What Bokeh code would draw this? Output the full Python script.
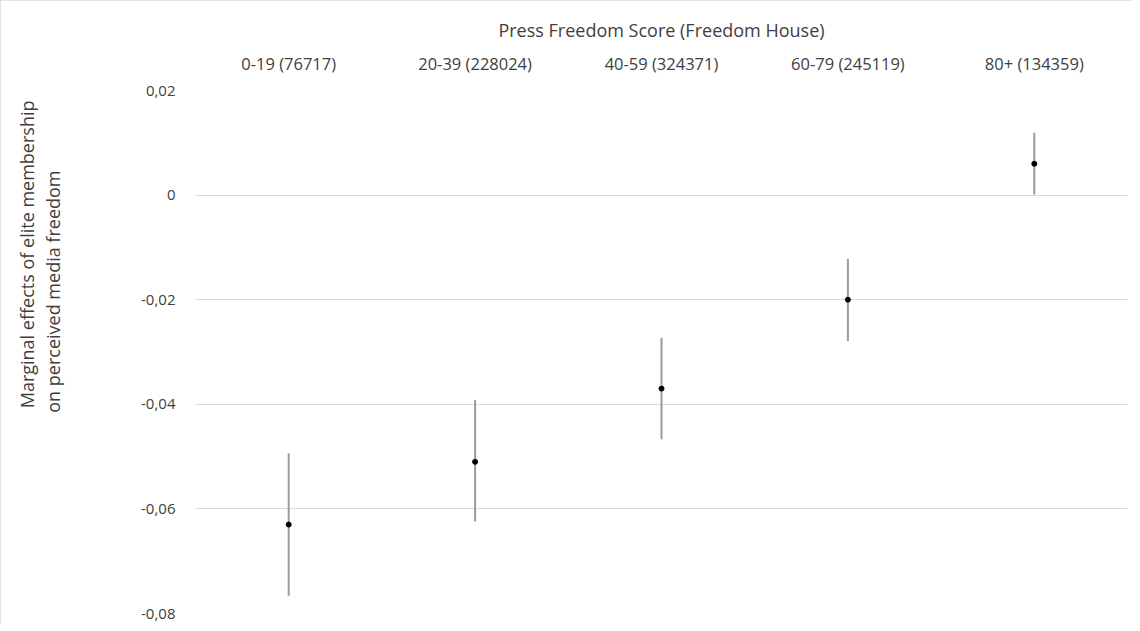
from bokeh.plotting import figure
from bokeh.models import FactorRange, Range1d, FixedTicker, CustomJSTickFormatter, Title
from bokeh.embed import file_html
from bokeh.resources import INLINE

# ---- data ----
categories = ["0-19 (76717)", "20-39 (228024)", "40-59 (324371)", "60-79 (245119)", "80+ (134359)"]
estimates = [-0.063, -0.051, -0.037, -0.020, 0.006]
lower = [-0.0766, -0.0624, -0.0467, -0.0279, 0.0001]
upper = [-0.0494, -0.0392, -0.0273, -0.0122, 0.0119]
y_ticks = [-0.08, -0.06, -0.04, -0.02, 0.0, 0.02]

x_title = "Press Freedom Score (Freedom House)"
y_title_1 = "Marginal effects of elite membership"
y_title_2 = "on perceived media freedom"

FONT = "Open Sans"
TXT = "#404040"

p = figure(
    width=1132, height=623,
    x_range=FactorRange(factors=categories, range_padding=0),
    y_range=Range1d(-0.08, 0.02),
    output_backend="svg", toolbar_location=None,
    x_axis_location="above",
    min_border_left=194, min_border_right=6, min_border_top=89, min_border_bottom=11,
)
p.styles = {"border-top": "1px solid #e3e3e3", "border-left": "1px solid #e3e3e3"}
p.outline_line_color = None
p.background_fill_color = "white"
p.border_fill_color = "white"

# grid
p.xgrid.grid_line_color = None
p.ygrid.grid_line_color = "#d9d9d9"
p.ygrid.grid_line_width = 1

# y axis
p.yaxis.ticker = FixedTicker(ticks=y_ticks)
p.yaxis.formatter = CustomJSTickFormatter(code="""
if (Math.abs(tick) < 1e-9) { return '0'; }
return tick.toFixed(2).replace('.', ',');
""")
p.yaxis.axis_line_color = None
p.yaxis.major_tick_line_color = None
p.yaxis.minor_tick_line_color = None
p.yaxis.major_label_standoff = 14
p.yaxis.major_label_text_font = FONT
p.yaxis.major_label_text_font_size = "15px"
p.yaxis.major_label_text_color = TXT
# invisible spacer label to push the titles outward
p.yaxis.axis_label = "."
p.yaxis.axis_label_text_alpha = 0
p.yaxis.axis_label_text_font_size = "10px"
p.yaxis.axis_label_standoff = 62

# x axis (on top)
p.xaxis.axis_line_color = None
p.xaxis.major_tick_line_color = None
p.xaxis.minor_tick_line_color = None
p.xaxis.major_label_standoff = 10
p.xaxis.major_label_text_font = FONT
p.xaxis.major_label_text_font_size = "16.5px"
p.xaxis.major_label_text_color = TXT
p.xaxis.axis_label = x_title
p.xaxis.axis_label_text_font = FONT
p.xaxis.axis_label_text_font_size = "18px"
p.xaxis.axis_label_text_font_style = "normal"
p.xaxis.axis_label_text_color = TXT
p.xaxis.axis_label_standoff = 7

# y-axis title lines as side titles (inner line added first)
for txt, off in [(y_title_2, 80), (y_title_1, 10)]:
    p.add_layout(Title(text=txt, align="right", offset=off, standoff=0,
                       vertical_align="middle",
                       text_font=FONT, text_font_size="18px", text_font_style="normal",
                       text_color=TXT, text_line_height=0.82), "left")

# error bars and points
p.segment(x0=categories, y0=lower, x1=categories, y1=upper,
          line_color="#9a9a9a", line_width=2)
p.scatter(x=categories, y=estimates, size=5, marker="circle",
          fill_color="black", line_color="black")

open("out.html", "w").write(file_html(p, INLINE))
